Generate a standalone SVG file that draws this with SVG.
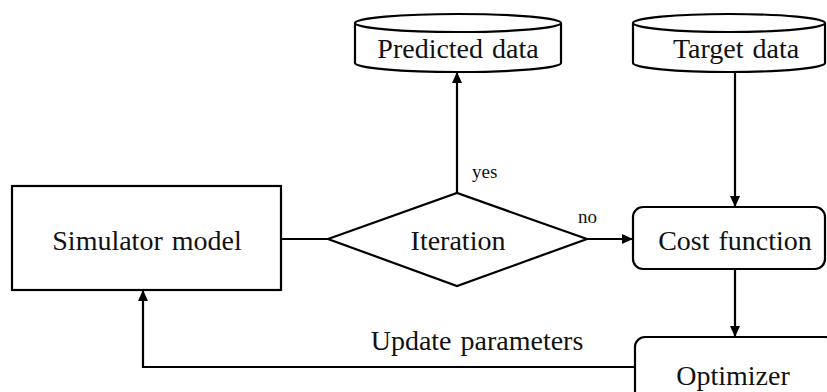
<svg xmlns="http://www.w3.org/2000/svg" width="827" height="392" viewBox="0 0 827 392">
<style>
.s{fill:#fff;stroke:#000;stroke-width:2.2}
.t{font-family:'Liberation Serif','Times New Roman',Tinos,'DejaVu Serif',serif;font-size:28px;fill:#111;text-anchor:middle;word-spacing:2px}
.l{font-family:'Liberation Serif','Times New Roman',Tinos,'DejaVu Serif',serif;font-size:19px;fill:#111}
.c{fill:none;stroke:#000;stroke-width:2.2}
</style>
<defs>
<marker id="a" markerWidth="11" markerHeight="10" refX="10" refY="5" orient="auto" markerUnits="userSpaceOnUse">
<path d="M0,0 L11,5 L0,10 Z" fill="#000"/>
</marker>
</defs>
<rect width="827" height="392" fill="#fff"/>
<g id="predicted">
<path class="s" d="M355,23 L355,63 A103,9 0 0 0 561,63 L561,23"/>
<ellipse class="s" cx="458" cy="23" rx="103" ry="9"/>
<text class="t" x="458" y="58">Predicted data</text>
</g>
<g id="target">
<path class="s" d="M633,23 L633,63 A96,9 0 0 0 825,63 L825,23"/>
<ellipse class="s" cx="729" cy="23" rx="96" ry="9"/>
<text class="t" x="736" y="58">Target data</text>
</g>
<g id="simulator">
<rect class="s" x="12" y="186" width="269" height="104"/>
<text class="t" x="147" y="250">Simulator model</text>
</g>
<g id="iteration">
<polygon class="s" points="328,239 457,193 587,239 457,286"/>
<text class="t" x="458" y="250">Iteration</text>
</g>
<g id="cost">
<rect class="s" x="633" y="207" width="192" height="62" rx="10"/>
<text class="t" x="735" y="250">Cost function</text>
</g>
<g id="optimizer">
<rect class="s" x="635" y="337" width="200" height="70" rx="10"/>
<text class="t" x="733" y="385">Optimizer</text>
</g>
<g id="connectors">
<line class="c" x1="281" y1="239" x2="328" y2="239"/>
<line class="c" x1="457" y1="193" x2="457" y2="73" marker-end="url(#a)"/>
<line class="c" x1="587" y1="239" x2="632" y2="239" marker-end="url(#a)"/>
<line class="c" x1="735" y1="72" x2="735" y2="206" marker-end="url(#a)"/>
<line class="c" x1="735" y1="269" x2="735" y2="336" marker-end="url(#a)"/>
<polyline class="c" points="635,367 143,367 143,291" marker-end="url(#a)"/>
<text class="l" x="472" y="178">yes</text>
<text class="l" x="578" y="223">no</text>
<text class="t" x="477" y="350">Update parameters</text>
</g>
</svg>
